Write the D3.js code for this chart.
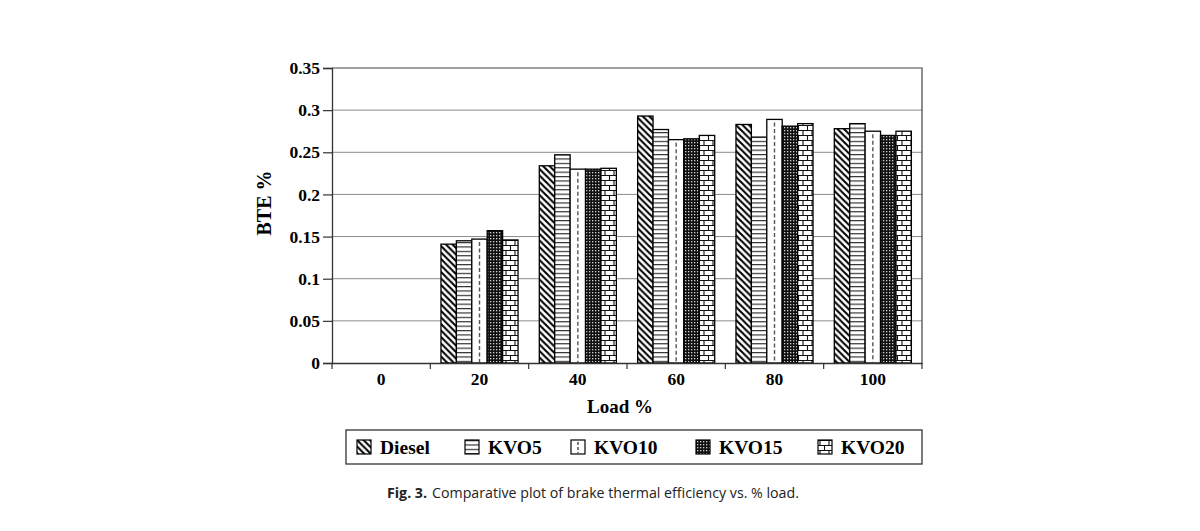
<!DOCTYPE html>
<html><head><meta charset="utf-8">
<script src="https://cdn.jsdelivr.net/npm/d3@7"></script>
<style>body{margin:0;background:#fff}svg{display:block}</style>
</head><body><svg id="c" width="1200" height="531"></svg>
<script>
const categories = ["0","20","40","60","80","100"];
const series = ["Diesel","KVO5","KVO10","KVO15","KVO20"];
const diesel = [null,0.141,0.234,0.293,0.283,0.278];
const kvo5   = [null,0.145,0.247,0.277,0.268,0.284];
const kvo10  = [null,0.147,0.230,0.265,0.289,0.275];
const kvo15  = [null,0.157,0.230,0.266,0.281,0.270];
const kvo20  = [null,0.146,0.231,0.270,0.284,0.275];
const yTicks = [0,0.05,0.1,0.15,0.2,0.25,0.3,0.35];
const valuesBySeries = [diesel,kvo5,kvo10,kvo15,kvo20];

const svg = d3.select("#c");
const L=332,R=922,T=68,B=363;
const serif = "'Liberation Serif','Times New Roman',serif";

const defs = svg.append("defs");
let p = defs.append("pattern").attr("id","pDiesel").attr("patternUnits","userSpaceOnUse").attr("width",6.5).attr("height",6.5);
p.append("rect").attr("width",6.5).attr("height",6.5).attr("fill","#fff");
p.append("path").attr("d","M-1,-1L7.5,7.5M-1,5.5L1,7.5M5.5,-1L7.5,1").attr("stroke","#000").attr("stroke-width",2.1);
p = defs.append("pattern").attr("id","pKVO5").attr("patternUnits","userSpaceOnUse").attr("width",8).attr("height",4.4);
p.append("rect").attr("width",8).attr("height",4.4).attr("fill","#fff");
p.append("line").attr("x1",0).attr("x2",8).attr("y1",0.6).attr("y2",0.6).attr("stroke","#222").attr("stroke-width",1.1);
p = defs.append("pattern").attr("id","pKVO15").attr("patternUnits","userSpaceOnUse").attr("width",3).attr("height",3);
p.append("rect").attr("width",3).attr("height",3).attr("fill","#111");
p.append("rect").attr("x",1).attr("y",1).attr("width",1.3).attr("height",1.3).attr("fill","#d0d0d0");
p = defs.append("pattern").attr("id","pKVO20").attr("patternUnits","userSpaceOnUse").attr("width",9).attr("height",10);
p.append("rect").attr("width",9).attr("height",10).attr("fill","#fff");
p.append("path").attr("d","M0,0.5H9M0,5.5H9M2,0.5V5.5M6.5,5.5V10.5").attr("stroke","#111").attr("stroke-width",1.1).attr("fill","none");

const fills = {"Diesel":"url(#pDiesel)","KVO5":"url(#pKVO5)","KVO10":"#fff","KVO15":"url(#pKVO15)","KVO20":"url(#pKVO20)"};

const x = d3.scaleBand().domain(categories).range([L,R]).paddingInner(0).paddingOuter(0);
const xs = d3.scaleBand().domain(series).range([0,x.bandwidth()]).paddingInner(0).paddingOuter(0.69);
const y = d3.scaleLinear().domain([0,0.35]).range([B,T]);

svg.append("g").selectAll("line").data(yTicks.filter(d=>d>0&&d<0.35)).join("line")
  .attr("x1",L).attr("x2",R).attr("y1",d=>y(d)).attr("y2",d=>y(d))
  .attr("stroke","#8a8a8a").attr("stroke-width",1);
svg.append("path").attr("d",`M${L},${T}H${R}V${B}`).attr("fill","none").attr("stroke","#444").attr("stroke-width",1.2);

const data = [];
categories.forEach((c,i)=>series.forEach((s,j)=>{ if(valuesBySeries[j][i]!=null) data.push({c,s,v:valuesBySeries[j][i]}); }));
const bars = svg.append("g");
bars.selectAll("rect").data(data).join("rect")
  .attr("x",d=>x(d.c)+xs(d.s)).attr("width",xs.bandwidth())
  .attr("y",d=>y(d.v)).attr("height",d=>B-y(d.v))
  .attr("fill",d=>fills[d.s]).attr("stroke","#000").attr("stroke-width",1.3);
bars.selectAll("line.d").data(data.filter(d=>d.s==="KVO10")).join("line").attr("class","d")
  .attr("x1",d=>x(d.c)+xs(d.s)+xs.bandwidth()/2).attr("x2",d=>x(d.c)+xs(d.s)+xs.bandwidth()/2)
  .attr("y1",d=>y(d.v)+3).attr("y2",B)
  .attr("stroke","#555").attr("stroke-width",1.4).attr("stroke-dasharray","4,2.5");

const ya = svg.append("g").attr("transform",`translate(${L},0)`)
  .call(d3.axisLeft(y).tickValues(yTicks).tickSize(9).tickPadding(3).tickFormat(d=>d3.format("")(+d.toFixed(2))));
ya.select(".domain").attr("stroke","#333").attr("stroke-width",1.3);
ya.selectAll(".tick line").attr("stroke","#333").attr("stroke-width",1.2);
ya.selectAll("text").attr("font-family",serif).attr("font-weight","bold").attr("font-size",17.5).attr("fill","#000");

const xa = svg.append("g").attr("transform",`translate(0,${B})`)
  .call(d3.axisBottom(x).tickSize(0).tickPadding(10));
xa.select(".domain").attr("stroke","#333").attr("stroke-width",1.3);
xa.selectAll("text").attr("font-family",serif).attr("font-weight","bold").attr("font-size",17.5).attr("fill","#000");
const bounds = categories.map(c=>x(c)).concat([x(categories[categories.length-1])+x.bandwidth()]);
svg.append("g").selectAll("line").data(bounds).join("line")
  .attr("x1",d=>d).attr("x2",d=>d).attr("y1",B).attr("y2",B+6).attr("stroke","#333").attr("stroke-width",1.2);

svg.append("text").attr("x",620).attr("y",413).attr("text-anchor","middle")
  .attr("font-family",serif).attr("font-weight","bold").attr("font-size",19).text("Load %");
svg.append("text").attr("transform","translate(271,203) rotate(-90)").attr("text-anchor","middle")
  .attr("font-family",serif).attr("font-weight","bold").attr("font-size",20).text("BTE %");

svg.append("rect").attr("x",346).attr("y",430).attr("width",576).attr("height",34)
  .attr("fill","#fff").attr("stroke","#333").attr("stroke-width",1.3);
const legX = [357,465,571,696,818];
const lg = svg.append("g").selectAll("g").data(series).join("g").attr("transform",(d,i)=>`translate(${legX[i]},440)`);
lg.append("rect").attr("width",14).attr("height",14).attr("fill",d=>fills[d]).attr("stroke","#000").attr("stroke-width",1.2);
lg.filter(d=>d==="KVO10").append("line").attr("x1",7).attr("x2",7).attr("y1",2).attr("y2",13)
  .attr("stroke","#333").attr("stroke-width",1.3).attr("stroke-dasharray","3,2");
lg.append("text").attr("x",23).attr("y",14).attr("font-family",serif).attr("font-weight","bold")
  .attr("font-size",19.5).text(d=>d);

const cap = svg.append("text").attr("x",387).attr("y",498).attr("font-family","'Open Sans','Noto Sans',sans-serif").attr("font-size",14.2).attr("fill","#222");
cap.append("tspan").attr("font-weight","bold").text("Fig. 3.");
cap.append("tspan").attr("dx",5).text("Comparative plot of brake thermal efficiency vs. % load.");
</script></body></html>
